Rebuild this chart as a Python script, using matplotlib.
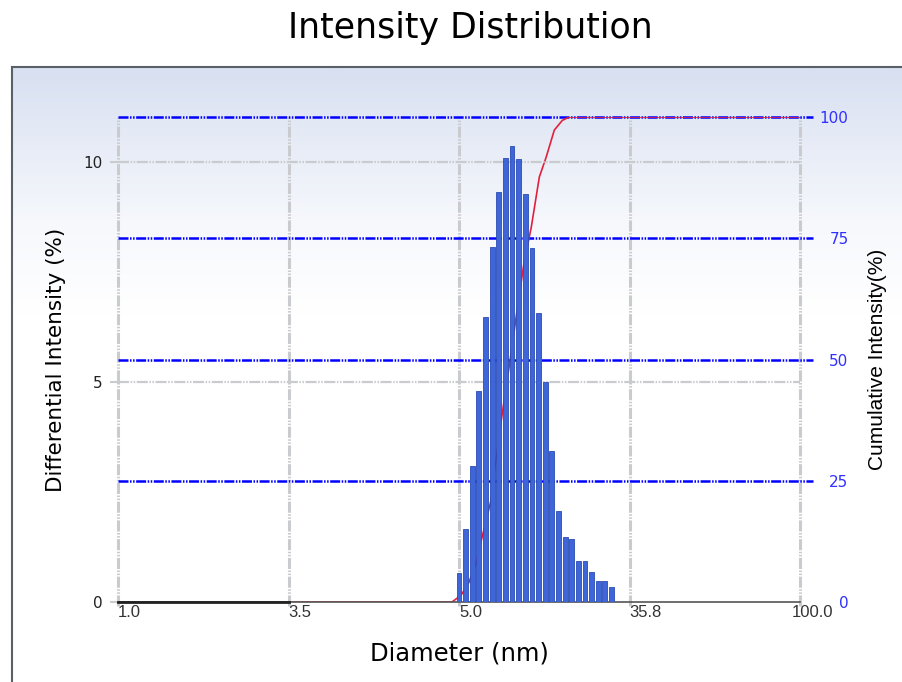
import numpy as np
import matplotlib
matplotlib.use("Agg")
import matplotlib.pyplot as plt
import matplotlib.transforms as mtransforms
from matplotlib.colors import LinearSegmentedColormap

plt.rcParams["lines.scale_dashes"] = False

# x axis is drawn as evenly spaced categories
tick_pos = [0, 1, 2, 3, 4]
tick_labels = ["1.0", "3.5", "5.0", "35.8", "100.0"]

# bar centres (axis units) and differential intensity (%)
bar_x = [2.000, 2.039, 2.078, 2.117, 2.156, 2.194, 2.233, 2.272, 2.311, 2.350,
         2.389, 2.428, 2.467, 2.506, 2.545, 2.583, 2.622, 2.661, 2.700, 2.739,
         2.778, 2.817, 2.856, 2.894]
diff_int = [0.66, 1.66, 3.10, 4.80, 6.48, 8.07, 9.32, 10.09, 10.36, 10.07,
            9.27, 8.05, 6.57, 5.00, 3.43, 2.07, 1.48, 1.43, 0.93, 0.93,
            0.68, 0.48, 0.48, 0.34]

# cumulative intensity (%)
cum_x = [0.0, 1.959, 2.012, 2.059, 2.100, 2.141, 2.188, 2.224, 2.259, 2.300,
         2.341, 2.382, 2.424, 2.471, 2.512, 2.559, 2.606, 2.647, 4.0]
cum_int = [0, 0, 1.4, 4.1, 8.0, 14.2, 21.0, 31.3, 40.2, 49.9,
           60.2, 70.1, 77.3, 87.6, 91.8, 97.3, 99.3, 100, 100]

left_ticks = [0, 5, 10]
right_ticks = [0, 25, 50, 75, 100]

W, H = 902, 682
fig = plt.figure(figsize=(W / 100, H / 100), dpi=100)
fig.patch.set_facecolor("white")

# gradient panel behind the plot
bg = fig.add_axes([12 / W, 0, 1 - 12 / W, (H - 67) / H], zorder=0)
grad = np.linspace(0, 1, 300).reshape(-1, 1)
cmap = LinearSegmentedColormap.from_list("panel", [(0, "#d8e0f1"), (0.25, "#f6f8fc"), (0.4, "#ffffff"), (1, "#ffffff")])
bg.imshow(grad, aspect="auto", cmap=cmap, extent=[0, 1, 0, 1], origin="upper")
bg.set_xlim(0, 1)
bg.set_ylim(0, 1)
bg.set_xticks([])
bg.set_yticks([])
for s in ["right", "bottom"]:
    bg.spines[s].set_visible(False)
for s in ["top", "left"]:
    bg.spines[s].set_color("#5a6068")
    bg.spines[s].set_linewidth(1.5)

ax = fig.add_axes([118 / W, 80 / H, 682 / W, 485 / H], zorder=2)
ax.patch.set_alpha(0)
ax.set_xlim(0, 4)
ax.set_ylim(0, 11.02)

# cumulative axis sits behind the bars
ax2 = ax.twinx()
ax2.set_zorder(1)
ax2.patch.set_alpha(0)
ax2.set_ylim(0, 100)

grey = "#c9cbce"
grid_ls = (0, (8, 1.1, 1.1, 1.1, 1.1, 1.1))
blue_ls = (0, (7.2, 1.1, 1.1, 1.1, 1.1, 1.1))
for x in tick_pos:
    ax2.axvline(x, ymin=-0.008, color=grey, lw=2.2, ls=grid_ls, zorder=1, clip_on=False)
for y in left_ticks[1:]:
    ax.axhline(y, color=grey, lw=1.6, ls=grid_ls, zorder=1)
for y in right_ticks[1:]:
    ax2.plot([0, 4 + 13 / 170], [y, y], color="#0000ff", lw=1.8, ls=blue_ls, zorder=2, clip_on=False)
ax2.plot(cum_x, cum_int, color="#e3203c", lw=1.2, zorder=3)

ax.bar(bar_x, diff_int, width=0.029, color="#3f66d8", edgecolor="#2b4cb4", lw=0.6, zorder=3)

for s in ["top", "right", "left"]:
    ax.spines[s].set_visible(False)
    ax2.spines[s].set_visible(False)
ax2.spines["bottom"].set_visible(False)
ax.spines["bottom"].set_color("#555555")
ax.spines["bottom"].set_linewidth(1.2)
ax.plot([0, 1], [0, 0], color="#222222", lw=2, zorder=4, clip_on=False)

ax.set_xticks(tick_pos)
ax.set_xticklabels(tick_labels, ha="left", family="Liberation Sans", fontsize=12, color="#333333")
ax.tick_params(axis="x", length=0, pad=2)
# last label is nudged left so it clears the right-hand "0"
last = ax.get_xticklabels()[-1]
last.set_transform(last.get_transform() + mtransforms.ScaledTranslation(-8 / 100, 0, fig.dpi_scale_trans))
ax.set_yticks(left_ticks)
ax.set_yticklabels([str(v) for v in left_ticks], fontsize=11, color="#222222")
ax.tick_params(axis="y", length=5.8, width=1.5, color=grey, pad=5.5)

ax.set_xlabel("Diameter (nm)", fontsize=17.5, labelpad=16)
ax.set_ylabel("Differential Intensity (%)", fontsize=15.5, labelpad=12)

ax2.set_yticks(right_ticks)
ax2.set_yticklabels([str(v) for v in right_ticks], fontsize=11, color="#3030ff", ha="right")
ax2.tick_params(axis="y", length=0, pad=35)
ax2.set_ylabel("Cumulative Intensity(%)", family="Liberation Sans", fontsize=15, labelpad=14)

fig.text(470 / W, 1 - 28 / H, "Intensity Distribution", fontsize=25, ha="center", va="center")

plt.savefig("out.png", dpi=100)
